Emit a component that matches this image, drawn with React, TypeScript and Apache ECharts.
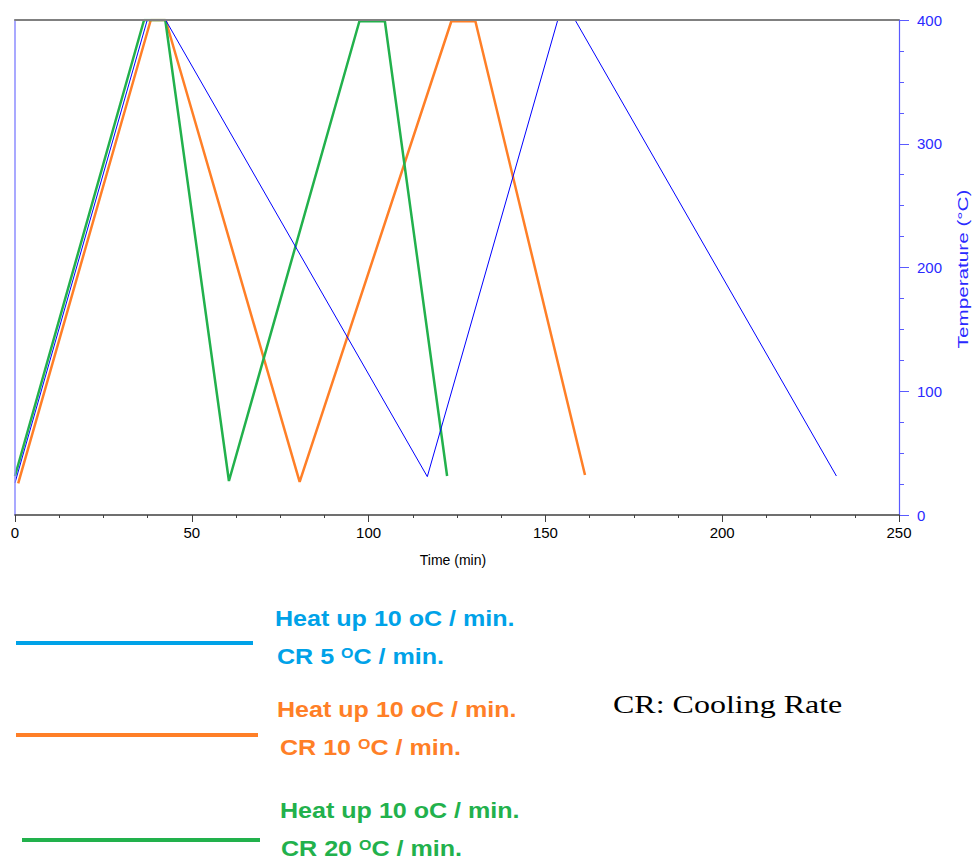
import React, { useEffect, useRef } from "react";
import * as echarts from "echarts";

// ---- data (time in min, temperature in °C) ----
const blueData: number[][] = [
  [0, 26], [37.4, 400], [42.6, 400], [116.6, 31], [153.5, 400], [158.4, 400], [232.3, 31.5],
];
const orangeData: number[][] = [
  [0.9, 25.6], [38.4, 400], [42.6, 400], [80.5, 26.7], [123.4, 399], [130.2, 399], [161.2, 32.3],
];
const greenData: number[][] = [
  [0, 31.5], [36.5, 400], [42.5, 400], [60.5, 27.5], [97.4, 399], [104.6, 399], [122.2, 31.5],
];
const xTicks = [0, 50, 100, 150, 200, 250];
const yTicks = [0, 100, 200, 300, 400];
const heatLabels = ["Heat up 10 oC / min.", "Heat up 10 oC / min.", "Heat up 10 oC / min."];
const coolingRates = ["5", "10", "20"];
const xName = "Time (min)";
const yName = "Temperature (°C)";
const note = "CR: Cooling Rate";

// ---- styles ----
const lineColors = ["#0000ff", "#ff7f27", "#22b14c"];
const lineWidths = [1, 2.5, 2.5];
const legendColors = ["#00a2e8", "#ff7f27", "#22b14c"];
const legendLayout = [
  { x1: 16, x2: 253, ly: 643, tx: 275, t1: 619, t2x: 277, t2: 657 },
  { x1: 16, x2: 258, ly: 735, tx: 277, t1: 710, t2x: 280, t2: 748 },
  { x1: 22, x2: 260, ly: 840, tx: 280, t1: 811, t2x: 281, t2: 849 },
];
const SANS = '"Liberation Sans", Arial, sans-serif';

export default function App() {
  const ref = useRef<HTMLDivElement>(null);
  useEffect(() => {
    const chart = echarts.init(ref.current!, undefined, { renderer: "svg" });
    const seriesData = [orangeData, greenData, blueData];
    const seriesIdx = [1, 2, 0];
    const graphics: any[] = [];
    legendLayout.forEach((L, i) => {
      graphics.push({
        type: "line",
        shape: { x1: L.x1, y1: L.ly, x2: L.x2, y2: L.ly },
        style: { stroke: legendColors[i], lineWidth: 4 },
      });
      graphics.push({
        type: "text",
        x: L.tx,
        y: L.t1,
        scaleX: 1.14,
        style: {
          text: heatLabels[i],
          fill: legendColors[i],
          fontFamily: SANS,
          fontWeight: "bold",
          fontSize: 22,
          verticalAlign: "middle",
          align: "left",
        },
      });
      graphics.push({
        type: "text",
        x: L.t2x,
        y: L.t2,
        scaleX: 1.14,
        style: {
          text: `{n|CR ${coolingRates[i]} }{s|O}{n|C / min.}`,
          fill: legendColors[i],
          verticalAlign: "middle",
          align: "left",
          rich: {
            n: { fontFamily: SANS, fontWeight: "bold", fontSize: 22, fill: legendColors[i] },
            s: { fontFamily: SANS, fontWeight: "bold", fontSize: 14, fill: legendColors[i], verticalAlign: "top" },
          },
        },
      });
    });
    graphics.push({
      type: "text",
      x: 613,
      y: 704,
      scaleX: 1.28,
      style: {
        text: note,
        fill: "#000",
        fontFamily: '"Liberation Serif", "Times New Roman", serif',
        fontSize: 25,
        verticalAlign: "middle",
        align: "left",
      },
    });
    graphics.push({
      type: "text",
      x: 453,
      y: 560,
      style: { text: xName, fill: "#000", fontFamily: SANS, fontSize: 14, align: "center", verticalAlign: "middle" },
    });
    graphics.push({
      type: "text",
      x: 963,
      y: 269,
      rotation: Math.PI / 2,
      scaleX: 1.38,
      style: { text: yName, fill: "#2a2aff", fontFamily: SANS, fontSize: 15, align: "center", verticalAlign: "middle" },
    });

    chart.setOption({
      animation: false,
      backgroundColor: "#fff",
      grid: { left: 15, right: 74, top: 20, bottom: 350, containLabel: false },
      xAxis: [
        {
          type: "value",
          min: xTicks[0],
          max: xTicks[xTicks.length - 1],
          interval: xTicks[1] - xTicks[0],
          position: "bottom",
          z: 3,
          axisLine: { show: true, onZero: false, lineStyle: { color: "#404040", width: 1.5 } },
          axisTick: { show: true, length: 7, lineStyle: { color: "#404040" } },
          minorTick: { show: true, splitNumber: 4, length: 3, lineStyle: { color: "#404040" } },
          splitLine: { show: false },
          axisLabel: { color: "#000", fontSize: 15, fontFamily: SANS, margin: 10, showMinLabel: true, showMaxLabel: true },
        },
        {
          type: "value",
          min: xTicks[0],
          max: xTicks[xTicks.length - 1],
          position: "top",
          z: 3,
          axisLine: { show: true, onZero: false, lineStyle: { color: "#808080", width: 2 } },
          axisTick: { show: false },
          axisLabel: { show: false },
          splitLine: { show: false },
        },
      ],
      yAxis: [
        {
          type: "value",
          min: yTicks[0],
          max: yTicks[yTicks.length - 1],
          interval: yTicks[1] - yTicks[0],
          position: "right",
          z: 3,
          axisLine: { show: true, onZero: false, lineStyle: { color: "#5a5aff", width: 1.2 } },
          axisTick: { show: true, length: 10, lineStyle: { color: "#5a5aff" } },
          minorTick: { show: true, splitNumber: 4, length: 5, lineStyle: { color: "#5a5aff" } },
          splitLine: { show: false },
          axisLabel: { color: "#2a2aff", fontSize: 15, fontFamily: SANS, margin: 18 },
        },
        {
          type: "value",
          min: yTicks[0],
          max: yTicks[yTicks.length - 1],
          position: "left",
          z: 3,
          axisLine: { show: true, onZero: false, lineStyle: { color: "#8c8cff", width: 1.5 } },
          axisTick: { show: false },
          minorTick: { show: false },
          axisLabel: { show: false },
          splitLine: { show: false },
        },
      ],
      series: seriesData.map((d, k) => ({
        type: "line",
        data: d,
        xAxisIndex: 0,
        yAxisIndex: 0,
        z: 2,
        symbol: "none",
        showSymbol: false,
        lineStyle: { color: lineColors[seriesIdx[k]], width: lineWidths[seriesIdx[k]] },
        itemStyle: { color: lineColors[seriesIdx[k]] },
      })),
      graphic: graphics,
    });
    return () => chart.dispose();
  }, []);
  return <div ref={ref} style={{ position: "fixed", left: 0, top: 0, width: 973, height: 865 }} />;
}
